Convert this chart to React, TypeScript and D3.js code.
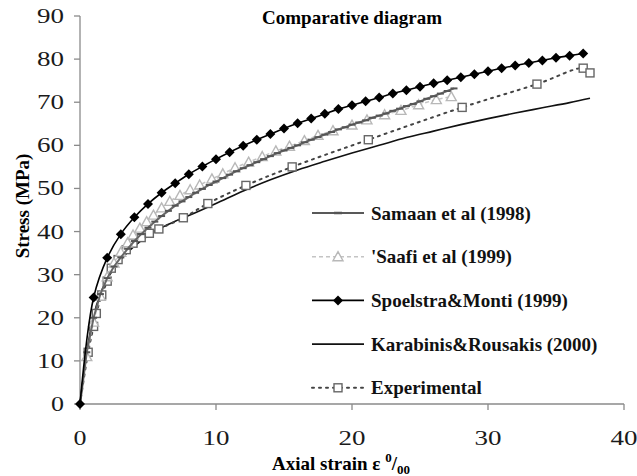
import React from "react";
import * as d3 from "d3";

// Stress–strain curves (axial strain ‰, stress MPa)
const samaanStrain = [0, 0.5, 1, 1.5, 2, 2.5, 3, 3.5, 4, 4.5, 5, 5.5, 6, 6.5, 7, 7.5, 8, 8.5, 9, 9.5, 10, 10.5, 11, 11.5, 12, 12.5, 13, 13.5, 14, 14.5, 15, 15.5, 16, 16.5, 17, 17.5, 18, 18.5, 19, 19.5, 20, 20.5, 21, 21.5, 22, 22.5, 23, 23.5, 24, 24.5, 25, 25.5, 26, 26.5, 27, 27.5];
const samaanStress = [0, 12, 20, 25.5, 29.2, 31.9, 34, 36, 37.8, 39.4, 40.9, 42.3, 43.6, 44.8, 46, 47, 48, 49, 49.9, 50.8, 51.6, 52.4, 53.2, 54, 54.7, 55.4, 56.1, 56.8, 57.5, 58.2, 58.8, 59.4, 60, 60.7, 61.3, 61.9, 62.5, 63.1, 63.7, 64.2, 64.8, 65.3, 65.8, 66.4, 66.9, 67.4, 68, 68.5, 69.1, 69.6, 70.2, 70.8, 71.4, 72, 72.6, 73.2];

const saafiStrain = [0, 0.5, 1.0, 1.5, 2.0, 2.5, 3.0, 3.5, 3.9, 4.4, 4.9, 5.4, 6.0, 6.6, 7.35, 8.1, 8.8, 9.7, 10.5, 11.4, 12.4, 13.4, 14.4, 15.4, 16.5, 17.5, 18.6, 20.0, 21.1, 22.4, 23.6, 24.9, 26.2, 27.3];
const saafiStress = [0, 11, 19, 25, 29.5, 32.7, 35.2, 37.4, 39.2, 40.8, 42.3, 43.8, 45.5, 47, 48.4, 49.7, 50.8, 52.2, 53.4, 54.8, 56.1, 57.4, 58.7, 59.8, 61.1, 62.3, 63.4, 64.7, 65.9, 67.1, 68.1, 69.4, 70.6, 71.3];

const spoelstraStrain = [0, 1, 2, 3, 4, 5, 6, 7, 8, 9, 10, 11, 12, 13, 14, 15, 16, 17, 18, 19, 20, 21, 22, 23, 24, 25, 26, 27, 28, 29, 30, 31, 32, 33, 34, 35, 36, 37];
const spoelstraStress = [0, 24.7, 33.9, 39.4, 43.3, 46.4, 49.0, 51.2, 53.3, 55.1, 56.8, 58.4, 59.9, 61.3, 62.6, 63.9, 65.1, 66.2, 67.3, 68.4, 69.3, 70.2, 71.1, 72.0, 72.8, 73.6, 74.4, 75.1, 75.8, 76.5, 77.2, 77.9, 78.5, 79.1, 79.7, 80.3, 80.8, 81.3];

const karabinisStrain = [0, 0.5, 1, 1.5, 2, 3, 4, 5, 6, 7, 8, 10, 12, 14, 16, 18, 20, 22, 24, 26, 28, 30, 32, 34, 36, 37.5];
const karabinisStress = [0, 12, 20.5, 25.5, 29, 33.5, 36.6, 39, 40.9, 42.4, 43.7, 46.5, 49.4, 52, 54.3, 56.3, 58.2, 60, 61.8, 63.3, 64.8, 66.2, 67.5, 68.7, 69.9, 70.9];

const experimentalStrain = [0, 0.6, 1.0, 1.2, 1.6, 2.0, 2.3, 2.8, 3.4, 3.9, 4.5, 5.1, 5.8, 7.6, 9.4, 12.2, 15.6, 21.2, 28.1, 33.6, 37.0, 37.5];
const experimentalStress = [0, 12, 18, 21, 25.3, 28.5, 31.5, 33.5, 35.8, 37.3, 38.6, 39.6, 40.6, 43.2, 46.5, 50.7, 55, 61.3, 68.8, 74.2, 77.9, 76.8];

const xTicks = [0, 10, 20, 30, 40];
const yTicks = [0, 10, 20, 30, 40, 50, 60, 70, 80, 90];

const legendLabels = [
  "Samaan et al (1998)",
  "'Saafi et al (1999)",
  "Spoelstra&Monti (1999)",
  "Karabinis&Rousakis (2000)",
  "Experimental",
];

type Pt = [number, number];
const zip = (xs: number[], ys: number[]): Pt[] => xs.map((v, i) => [v, ys[i]]);

const W = 637;
const H = 476;
const serif = "'Liberation Serif', 'Times New Roman', serif";

export default function App() {
  const x = d3.scaleLinear().domain([0, 40]).range([80, 624]);
  const y = d3.scaleLinear().domain([0, 90]).range([404, 16]);

  const smooth = d3
    .line<Pt>()
    .x((d) => x(d[0]))
    .y((d) => y(d[1]))
    .curve(d3.curveCatmullRom.alpha(0.5));
  const straight = d3
    .line<Pt>()
    .x((d) => x(d[0]))
    .y((d) => y(d[1]));

  const samaan = zip(samaanStrain, samaanStress);
  const saafi = zip(saafiStrain, saafiStress);
  const spoelstra = zip(spoelstraStrain, spoelstraStress);
  const karabinis = zip(karabinisStrain, karabinisStress);
  const experimental = zip(experimentalStrain, experimentalStress);

  const tri = (cx: number, cy: number, s = 5) =>
    `M${cx},${cy - s}L${cx + s},${cy + s * 0.8}L${cx - s},${cy + s * 0.8}Z`;
  const dia = (cx: number, cy: number, s = 5) =>
    `M${cx},${cy - s}L${cx + s},${cy}L${cx},${cy + s}L${cx - s},${cy}Z`;

  const legendY = (i: number) => 213 + i * 43.7;
  const lx0 = 312;
  const lx1 = 364;
  const lxm = (lx0 + lx1) / 2;

  return (
    <svg width={W} height={H} style={{ position: "absolute", left: 0, top: 0, background: "#fff" }}>
      {/* axes */}
      <g stroke="#8a8a8a" strokeWidth={1.3} fill="none">
        <line x1={x(0)} x2={x(0)} y1={y(90)} y2={y(0)} />
        <line x1={x(0)} x2={x(40)} y1={y(0)} y2={y(0)} />
        {yTicks.map((t) => (
          <line key={"yt" + t} x1={x(0) - 6} x2={x(0)} y1={y(t)} y2={y(t)} />
        ))}
        {xTicks.map((t) => (
          <line key={"xt" + t} x1={x(t)} x2={x(t)} y1={y(0)} y2={y(0) + 6} />
        ))}
      </g>
      <g fontFamily={serif} fontSize={20} fill="#1a1a1a">
        {yTicks.map((t) => (
          <text
            key={"yl" + t}
            x={64}
            y={y(t)}
            textAnchor="end"
            dominantBaseline="central"
            textLength={String(t).length > 1 ? 27 : 13}
            lengthAdjust="spacingAndGlyphs"
          >
            {t}
          </text>
        ))}
        {xTicks.map((t) => (
          <text
            key={"xl" + t}
            x={x(t)}
            y={438}
            textAnchor="middle"
            dominantBaseline="central"
            textLength={String(t).length > 1 ? 27 : 13}
            lengthAdjust="spacingAndGlyphs"
          >
            {t}
          </text>
        ))}
      </g>

      {/* titles */}
      <text x={352} y={24} textAnchor="middle" fontFamily={serif} fontWeight="bold" fontSize={19}>
        Comparative diagram
      </text>
      <text
        transform={`translate(29,206) rotate(-90)`}
        textAnchor="middle"
        fontFamily={serif}
        fontWeight="bold"
        fontSize={19}
      >
        Stress (MPa)
      </text>
      <text x={341} y={470} textAnchor="middle" fontFamily={serif} fontWeight="bold" fontSize={19}>
        Axial strain ε <tspan fontSize={13} dy={-8}>0</tspan>
        <tspan dy={8}>/</tspan>
        <tspan fontSize={13} dy={4}>00</tspan>
      </text>

      {/* Karabinis & Rousakis */}
      <path d={smooth(karabinis) ?? ""} fill="none" stroke="#111" strokeWidth={1.6} />

      {/* Experimental */}
      <path d={smooth(experimental) ?? ""} fill="none" stroke="#444" strokeWidth={2} strokeDasharray="2,5" strokeLinecap="round" />
      {experimental.slice(1).map((d, i) => (
        <rect key={"ex" + i} x={x(d[0]) - 4} y={y(d[1]) - 4} width={8} height={8} fill="#fff" stroke="#666" strokeWidth={1.4} />
      ))}

      {/* Saafi */}
      <path d={smooth(saafi) ?? ""} fill="none" stroke="#c4c4c4" strokeWidth={1.5} strokeDasharray="4,3" />
      {saafi.slice(1).map((d, i) => (
        <path key={"sa" + i} d={tri(x(d[0]), y(d[1]))} fill="#fff" stroke="#b8b8b8" strokeWidth={1.4} />
      ))}

      {/* Samaan */}
      <path d={straight(samaan) ?? ""} fill="none" stroke="#666" strokeWidth={2} />
      {samaan.slice(1).map((d, i) => (
        <line key={"sm" + i} x1={x(d[0]) - 3.5} x2={x(d[0]) + 3.5} y1={y(d[1])} y2={y(d[1])} stroke="#555" strokeWidth={2} />
      ))}

      {/* Spoelstra & Monti */}
      <path d={smooth(spoelstra) ?? ""} fill="none" stroke="#000" strokeWidth={1.6} />
      {spoelstra.map((d, i) => (
        <path key={"sp" + i} d={dia(x(d[0]), y(d[1]))} fill="#000" />
      ))}

      {/* legend */}
      <g>
        <line x1={lx0} x2={lx1} y1={legendY(0)} y2={legendY(0)} stroke="#222" strokeWidth={1.5} />
        <line x1={lxm - 4} x2={lxm + 4} y1={legendY(0)} y2={legendY(0)} stroke="#555" strokeWidth={2.5} />

        <line x1={lx0} x2={lx1} y1={legendY(1)} y2={legendY(1)} stroke="#c4c4c4" strokeWidth={1.5} strokeDasharray="4,3" />
        <path d={tri(lxm, legendY(1))} fill="#fff" stroke="#b8b8b8" strokeWidth={1.4} />

        <line x1={lx0} x2={lx1} y1={legendY(2)} y2={legendY(2)} stroke="#000" strokeWidth={1.6} />
        <path d={dia(lxm, legendY(2))} fill="#000" />

        <line x1={lx0} x2={lx1} y1={legendY(3)} y2={legendY(3)} stroke="#111" strokeWidth={1.6} />

        <line x1={lx0} x2={lx1} y1={legendY(4)} y2={legendY(4)} stroke="#444" strokeWidth={2} strokeDasharray="2,5" strokeLinecap="round" />
        <rect x={lxm - 4} y={legendY(4) - 4} width={8} height={8} fill="#fff" stroke="#666" strokeWidth={1.4} />

        {legendLabels.map((l, i) => (
          <text
            key={l}
            x={371}
            y={legendY(i)}
            dominantBaseline="central"
            fontFamily={serif}
            fontWeight="bold"
            fontSize={19}
            fill="#111"
          >
            {l}
          </text>
        ))}
      </g>
    </svg>
  );
}
